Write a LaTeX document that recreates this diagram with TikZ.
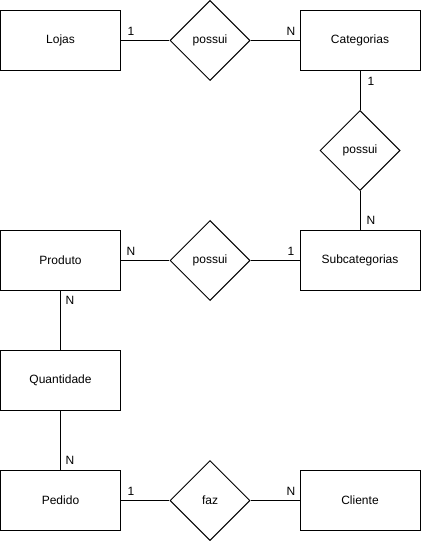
\documentclass[tikz,border=0pt]{standalone}
\usepackage{fontspec}
\setmainfont{Liberation Sans}
\usetikzlibrary{shapes.geometric, positioning}

\begin{document}
\begin{tikzpicture}[x=0.75pt, y=-0.75pt, font=\fontsize{9}{11}\selectfont,
  entity/.style={draw, line width=0.75pt, minimum width=90pt, minimum height=45pt, inner sep=0pt},
  rel/.style={draw, diamond, line width=0.75pt, minimum width=60pt, minimum height=60pt, inner sep=0pt},
  card/.style={inner sep=0pt}]
  \useasboundingbox (0,0) rectangle (421,541);

  % Entities
  \node[entity] (lojas) at (60.5,40.5) {Lojas};
  \node[entity] (cat) at (360,40.5) {Categorias};
  \node[entity] (subcat) at (360,260.5) {Subcategorias};
  \node[entity] (produto) at (60.5,260.5) {Produto};
  \node[entity] (quant) at (60.5,380.5) {Quantidade};
  \node[entity] (pedido) at (60.5,500.5) {Pedido};
  \node[entity] (cliente) at (360,500.5) {Cliente};

  % Relationships
  \node[rel] (r1) at (210,40.5) {possui};
  \node[rel] (r2) at (360,150.5) {possui};
  \node[rel] (r3) at (210,260.5) {possui};
  \node[rel] (r4) at (210,500.5) {faz};

  % Connections
  \draw[line width=0.75pt] (lojas) -- (r1);
  \draw[line width=0.75pt] (r1) -- (cat);
  \draw[line width=0.75pt] (cat) -- (r2);
  \draw[line width=0.75pt] (r2) -- (subcat);
  \draw[line width=0.75pt] (produto) -- (r3);
  \draw[line width=0.75pt] (r3) -- (subcat);
  \draw[line width=0.75pt] (produto) -- (quant);
  \draw[line width=0.75pt] (quant) -- (pedido);
  \draw[line width=0.75pt] (pedido) -- (r4);
  \draw[line width=0.75pt] (r4) -- (cliente);

  % Cardinalities
  \node[card] (c1) at (131,31) {1};
  \node[card] (c2) at (291,31) {N};
  \node[card] (c3) at (371,81) {1};
  \node[card] (c4) at (371,220) {N};
  \node[card] (c5) at (131,251) {N};
  \node[card] (c6) at (291,251) {1};
  \node[card] (c7) at (70,300) {N};
  \node[card] (c8) at (70,460) {N};
  \node[card] (c9) at (131,491) {1};
  \node[card] (c10) at (291,491) {N};
\end{tikzpicture}
\end{document}
